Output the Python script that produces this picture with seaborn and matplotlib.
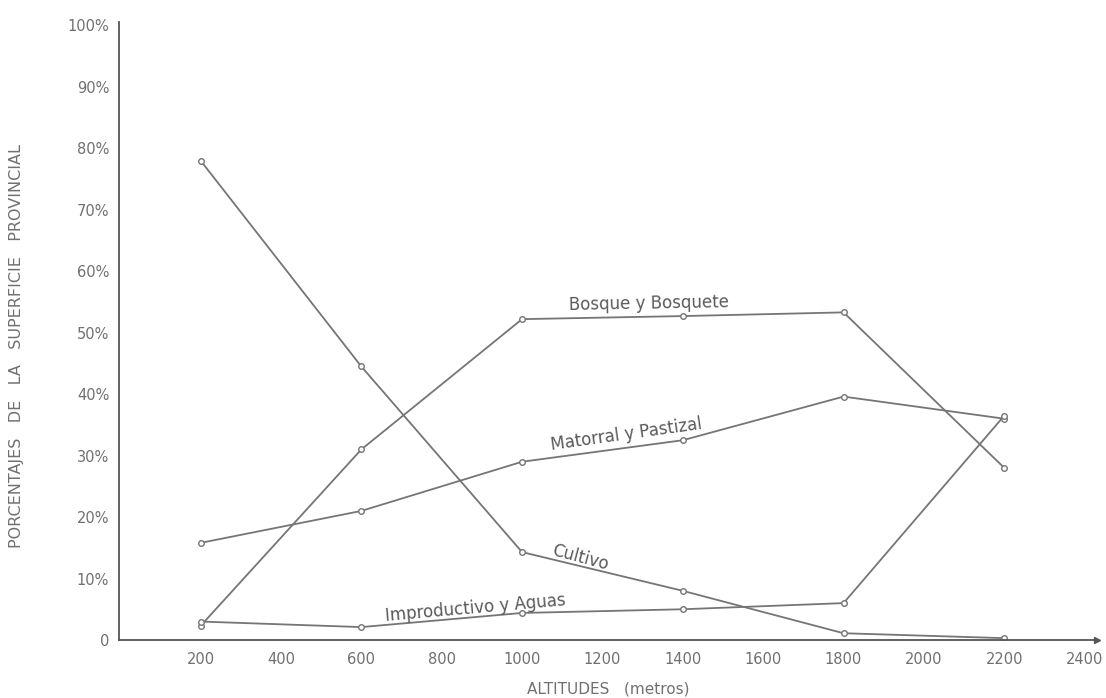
import matplotlib
matplotlib.use("Agg")
import matplotlib.pyplot as plt
import seaborn as sns
import pandas as pd

# altitudes (metros) and share of provincial surface (%)
altitudes = [200, 600, 1000, 1400, 1800, 2200]
cultivo = [78.0, 44.5, 14.3, 8.0, 1.1, 0.3]
bosque = [2.3, 31.0, 52.2, 52.7, 53.3, 28.0]
matorral = [15.8, 21.0, 29.0, 32.5, 39.6, 36.0]
improductivo = [3.0, 2.1, 4.4, 5.0, 6.0, 36.5]

series_names = ["Cultivo", "Bosque y Bosquete", "Matorral y Pastizal", "Improductivo y Aguas"]
x_ticks = [200, 400, 600, 800, 1000, 1200, 1400, 1600, 1800, 2000, 2200, 2400]
y_ticks = [0, 10, 20, 30, 40, 50, 60, 70, 80, 90, 100]

rows = []
for name, vals in zip(series_names, [cultivo, bosque, matorral, improductivo]):
    for a, v in zip(altitudes, vals):
        rows.append({"altitud": a, "pct": v, "uso": name})
df = pd.DataFrame(rows)

sns.set_theme(style="white")
plt.rcParams['font.family'] = ['DejaVu Sans']

ink = "#757575"
txt = "#707070"

fig = plt.figure(figsize=(11.06, 6.98), dpi=100)
ax = fig.add_axes([0.1076, 0.0831, 0.884, 0.885])

sns.lineplot(ax=ax, data=df, x="altitud", y="pct", hue="uso",
             palette=[ink] * 4, marker="o", markersize=4,
             markerfacecolor="white", markeredgecolor=ink, markeredgewidth=1.0,
             linewidth=1.3, legend=False)

ax.set_xlim(-3, 2430)
ax.set_ylim(0, 100.5)
ax.set_xticks(x_ticks)
ax.set_xticklabels([str(t) for t in x_ticks], fontsize=10.5, color=txt)
ax.set_yticks(y_ticks)
ax.set_yticklabels(["0"] + [f"{t}%" for t in y_ticks[1:]], fontsize=10.5, color=txt)
ax.tick_params(axis="x", direction="inout", length=6, width=1, color=ink, pad=6)
ax.tick_params(axis="y", direction="out", length=4, width=1, color=ink, pad=3)

for s in ["top", "right"]:
    ax.spines[s].set_visible(False)
for s in ["left", "bottom"]:
    ax.spines[s].set_color("#555555")
    ax.spines[s].set_linewidth(1.3)
# arrow tip at the end of the altitude axis
ax.plot(1, 0, ">", transform=ax.transAxes, color="#555555", markersize=4, clip_on=False)

ax.set_xlabel("ALTITUDES   (metros)", fontsize=11, color=txt, labelpad=10)
ax.set_ylabel("PORCENTAJES   DE   LA   SUPERFICIE   PROVINCIAL", fontsize=11.5, color=txt)
ax.yaxis.set_label_coords(-0.097, 0.476)

# curve labels along the lines
lab = "#5a5a5a"
ax.text(1315, 54.8, "Bosque y Bosquete", fontsize=12, color=lab, ha="center", va="center", rotation=1)
ax.text(1260, 33.4, "Matorral y Pastizal", fontsize=12, color=lab, ha="center", va="center", rotation=8)
ax.text(1145, 13.4, "Cultivo", fontsize=12, color=lab, ha="center", va="center", rotation=-15)
ax.text(885, 5.2, "Improductivo y Aguas", fontsize=12, color=lab, ha="center", va="center", rotation=5)

fig.savefig("out.png", dpi=100)
